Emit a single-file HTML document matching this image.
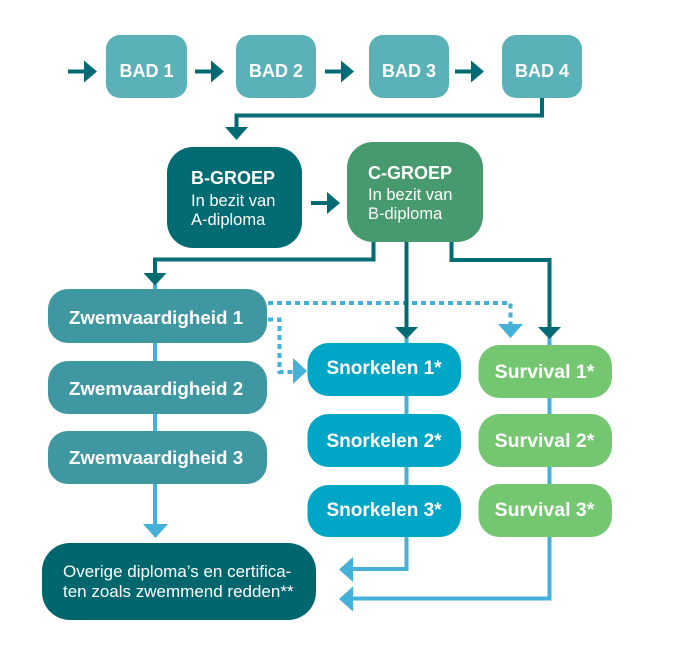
<!DOCTYPE html>
<html>
<head>
<meta charset="utf-8">
<style>
html,body{margin:0;padding:0;background:#fff;}
svg{display:block;}
text{font-family:"Liberation Sans",Arial,sans-serif;fill:#fff;}
.b{font-weight:bold;}
</style>
</head>
<body>
<svg width="688" height="654" viewBox="0 0 688 654" xmlns="http://www.w3.org/2000/svg">
  <!-- light blue connectors (drawn first, beneath boxes) -->
  <g stroke="#45B1D8" stroke-width="4" fill="none">
    <line x1="155" y1="284" x2="155" y2="292"/>
    <line x1="155" y1="340" x2="155" y2="365"/>
    <line x1="155" y1="410" x2="155" y2="435"/>
    <line x1="155" y1="482" x2="155" y2="525"/>
    <line x1="406.5" y1="336" x2="406.5" y2="346"/>
    <polyline points="406.5,393 406.5,569 352,569"/>
    <line x1="549.5" y1="336" x2="549.5" y2="348"/>
    <polyline points="549.5,395 549.5,598.5 352,598.5"/>
  </g>
  <!-- dotted connectors -->
  <g stroke="#45B1D8" stroke-width="4" fill="none" stroke-dasharray="5 4">
    <polyline points="268,303 510.5,303 510.5,324"/>
    <polyline points="268,319.5 279.5,319.5 279.5,372 293,372"/>
  </g>
  <g fill="#45B1D8">
    <polygon points="498,324 523,324 510.5,338"/>
    <polygon points="293,358 293,384 307,371"/>
    <polygon points="143,524 168,524 155.5,538"/>
    <polygon points="353,557 353,582 339,569.5"/>
    <polygon points="353,586.5 353,611.5 339,599"/>
  </g>

  <!-- dark teal connectors -->
  <g stroke="#006B75" stroke-width="4" fill="none">
    <line x1="68" y1="71.5" x2="86" y2="71.5"/>
    <line x1="195" y1="71.5" x2="213" y2="71.5"/>
    <line x1="325" y1="71.5" x2="343" y2="71.5"/>
    <line x1="455" y1="71.5" x2="473" y2="71.5"/>
    <polyline points="542,96 542,115.5 236.5,115.5 236.5,128"/>
    <line x1="311" y1="203" x2="329" y2="203"/>
    <polyline points="373.5,238 373.5,259.5 155,259.5 155,274"/>
    <line x1="406.5" y1="238" x2="406.5" y2="328"/>
    <polyline points="451.5,238 451.5,260 549.5,260 549.5,328"/>
  </g>
  <g fill="#006B75">
    <polygon points="84,60.5 84,82.5 97,71.5"/>
    <polygon points="211,60.5 211,82.5 224,71.5"/>
    <polygon points="341,60.5 341,82.5 354,71.5"/>
    <polygon points="471,60.5 471,82.5 484,71.5"/>
    <polygon points="225,127 248,127 236.5,140"/>
    <polygon points="327,192 327,214 340,203"/>
    <polygon points="143.5,273 166.5,273 155,285.5"/>
    <polygon points="395,327 418,327 406.5,339"/>
    <polygon points="538,327 561,327 549.5,339"/>
  </g>

  <!-- BAD boxes -->
  <g fill="#5AB1B8">
    <rect x="106" y="35" width="81" height="63" rx="14"/>
    <rect x="236" y="35" width="80" height="63" rx="14"/>
    <rect x="369" y="35" width="80" height="63" rx="14"/>
    <rect x="502" y="35" width="80" height="63" rx="14"/>
  </g>
  <g class="b" font-size="18" text-anchor="middle">
    <text x="146.5" y="77">BAD 1</text>
    <text x="276" y="77">BAD 2</text>
    <text x="409" y="77">BAD 3</text>
    <text x="542" y="77">BAD 4</text>
  </g>

  <!-- B-GROEP / C-GROEP -->
  <rect x="167" y="147" width="135" height="101" rx="26" fill="#006B73"/>
  <rect x="347" y="142" width="136" height="100" rx="26" fill="#479A6D"/>
  <text x="191" y="184" class="b" font-size="18">B-GROEP</text>
  <text x="191" y="206" font-size="16.5">In bezit van</text>
  <text x="191" y="225" font-size="16.5">A-diploma</text>
  <text x="368" y="179" class="b" font-size="18">C-GROEP</text>
  <text x="368" y="200" font-size="16.5">In bezit van</text>
  <text x="368" y="219" font-size="16.5">B-diploma</text>

  <!-- Zwemvaardigheid -->
  <g fill="#3F97A1">
    <rect x="48" y="289" width="219" height="54" rx="20"/>
    <rect x="48" y="361" width="219" height="53" rx="20"/>
    <rect x="48" y="431" width="219" height="53" rx="20"/>
  </g>
  <g class="b" font-size="18.8" text-anchor="middle">
    <text x="156" y="324">Zwemvaardigheid 1</text>
    <text x="156" y="395">Zwemvaardigheid 2</text>
    <text x="156" y="464">Zwemvaardigheid 3</text>
  </g>

  <!-- Snorkelen -->
  <g fill="#00A6C6">
    <rect x="307.5" y="343" width="153.5" height="53" rx="21"/>
    <rect x="307.5" y="414" width="153.5" height="53" rx="21"/>
    <rect x="307.5" y="485" width="153.5" height="52" rx="21"/>
  </g>
  <g class="b" font-size="19" text-anchor="middle">
    <text x="384" y="374">Snorkelen 1*</text>
    <text x="384" y="447">Snorkelen 2*</text>
    <text x="384" y="516">Snorkelen 3*</text>
  </g>

  <!-- Survival -->
  <g fill="#74C671">
    <rect x="478.5" y="345" width="133.5" height="53" rx="21"/>
    <rect x="478.5" y="414" width="133.5" height="53" rx="21"/>
    <rect x="478.5" y="484" width="133.5" height="53" rx="21"/>
  </g>
  <g class="b" font-size="19.5" text-anchor="middle">
    <text x="544.5" y="378">Survival 1*</text>
    <text x="544.5" y="447">Survival 2*</text>
    <text x="544.5" y="516">Survival 3*</text>
  </g>

  <!-- Overige -->
  <rect x="42" y="543" width="274" height="77" rx="28" fill="#00666E"/>
  <text x="63" y="577" font-size="17">Overige diploma’s en certifica-</text>
  <text x="63" y="597" font-size="17">ten zoals zwemmend redden**</text>
</svg>
</body>
</html>
